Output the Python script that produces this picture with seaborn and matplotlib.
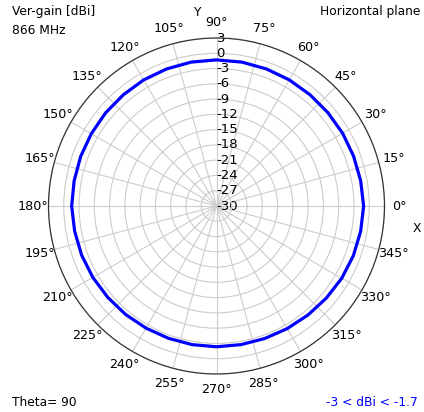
import numpy as np
import pandas as pd
import matplotlib
matplotlib.use("Agg")
import matplotlib.pyplot as plt
import seaborn as sns

# Data
angles_deg = [0, 10, 20, 30, 40, 50, 60, 70, 80, 90, 100, 110,
              120, 130, 140, 150, 160, 170, 180, 190, 200, 210, 220, 230,
              240, 250, 260, 270, 280, 290, 300, 310, 320, 330, 340, 350]
gain_dbi = [-1.1, -1.25, -1.35, -1.4, -1.45, -1.45, -1.4, -1.35, -1.3, -1.3, -1.3, -1.35,
            -1.4, -1.5, -1.55, -1.6, -1.6, -1.6, -1.55, -1.7, -1.8, -1.95, -2.1, -2.2,
            -2.3, -2.35, -2.35, -2.35, -2.35, -2.3, -2.2, -2.05, -1.85, -1.6, -1.4, -1.25]
r_ticks = [-30, -27, -24, -21, -18, -15, -12, -9, -6, -3, 0, 3]
theta_ticks = list(range(0, 360, 15))

sns.set_style("white")
plt.rcParams['font.family'] = ['DejaVu Sans']
plt.rcParams['text.color'] = 'black'
plt.rcParams['xtick.color'] = 'black'
plt.rcParams['ytick.color'] = 'black'

th = np.deg2rad(angles_deg + [360])
gv = gain_dbi + [gain_dbi[0]]
df = pd.DataFrame({"theta": th, "gain": gv})

W, H = 424, 412
fig = plt.figure(figsize=(W / 100, H / 100), dpi=100)
cx, cy, R = 216.5, 206, 168
ax = fig.add_axes([(cx - R) / W, (H - cy - R) / H, 2 * R / W, 2 * R / H], projection='polar')

sns.lineplot(data=df, x="theta", y="gain", ax=ax, color=(0, 0, 1), linewidth=2.3, sort=False)

ax.set_ylim(-30, 3)
ax.set_yticks(r_ticks)
ax.set_yticklabels([str(v) for v in r_ticks], fontsize=9.5, color='black')
for lbl in ax.get_yticklabels():
    lbl.set_horizontalalignment('left')
    lbl.set_verticalalignment('center')
ax.set_rlabel_position(90)
ax.set_xticks(np.deg2rad(theta_ticks))
ax.set_xticklabels([f"{t}°" for t in theta_ticks], fontsize=9.2, color='black')
ax.tick_params(axis='x', pad=0.5)
ax.grid(True, color='#cccccc', linewidth=0.8)
ax.spines['polar'].set_color('#333333')
ax.spines['polar'].set_linewidth(0.9)
ax.set_xlabel("")
ax.set_ylabel("")

def ftext(x, y, s, **kw):
    kw.setdefault('color', 'black')
    fig.text(x / W, 1 - y / H, s, fontsize=8.8, va='center', **kw)

ftext(12, 12, "Ver-gain [dBi]")
ftext(12, 31, "866 MHz")
ftext(197, 12, "Y", ha='center')
ftext(420, 12, "Horizontal plane", ha='right')
ftext(417, 228, "X", ha='center')
ftext(12, 402, "Theta= 90")
ftext(418, 402, "-3 < dBi < -1.7", ha='right', color=(0, 0, 1))

fig.savefig("out.png", dpi=100)
